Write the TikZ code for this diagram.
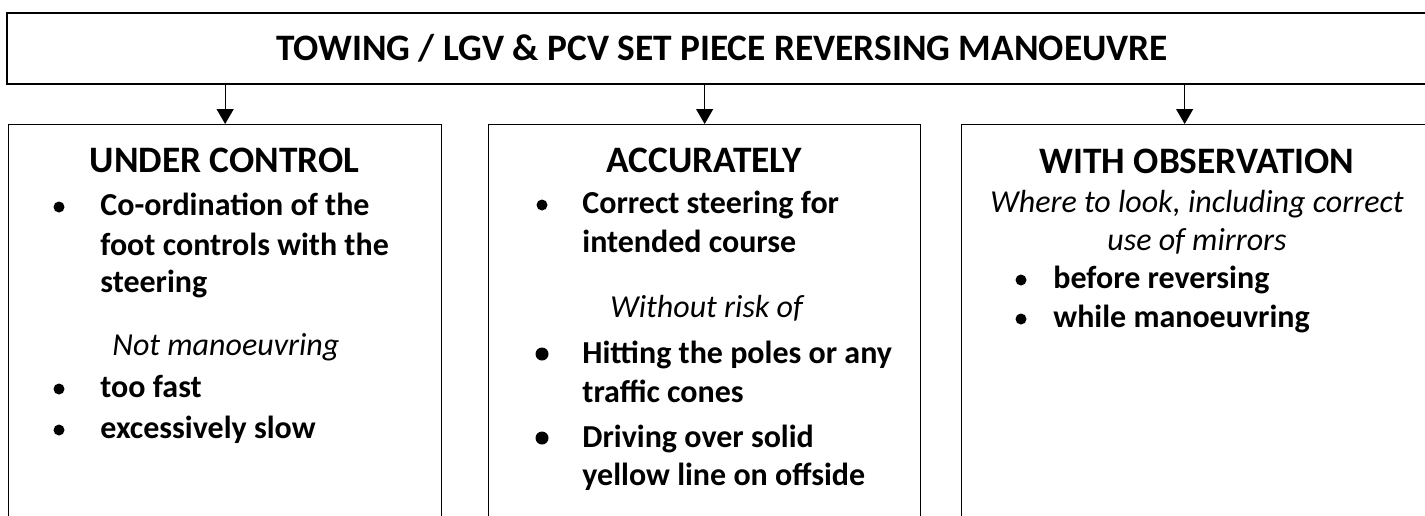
\documentclass[tikz,border=0pt]{standalone}
\usepackage{fontspec}
\setmainfont{Carlito}
\usepackage{tikz}
\usetikzlibrary{positioning,arrows.meta}

\tikzset{
  titlebox/.style={rectangle, draw, line width=1pt, minimum width=726.5pt, minimum height=35.5pt, inner sep=0pt},
  titletext/.style={anchor=base, inner sep=0pt, font=\fontsize{18.67}{23}\selectfont\bfseries},
  panel/.style={rectangle, draw, line width=0.65pt, anchor=north west, minimum height=230pt, inner sep=0pt},
  heading/.style={anchor=base, inner sep=0pt, font=\fontsize{18.67}{23}\selectfont\bfseries},
  item/.style={anchor=base west, inner sep=0pt, font=\fontsize{16}{20}\selectfont\bfseries},
  note/.style={anchor=base west, inner sep=0pt, font=\fontsize{16}{20}\selectfont\itshape},
  dot/.style={circle, fill, inner sep=0pt, minimum size=5.5pt},
  bigdot/.style={circle, fill, inner sep=0pt, minimum size=6.5pt},
  link/.style={-{Triangle[width=8.5pt,length=7.5pt]}, line width=0.65pt}
}

\begin{document}
\begin{tikzpicture}[x=0.5pt, y=-0.5pt]
\useasboundingbox[fill=white] (0,0) rectangle (1425,515);
\clip (0,0) rectangle (1425,515);

\node (title) [titlebox] at (733.5,48.5) {};
\node (titlelabel) [titletext] at (722,60) {TOWING / LGV \& PCV SET PIECE REVERSING MANOEUVRE};

\node (ctrl) [panel, minimum width=216.5pt] at (8,124) {};
\node (acc) [panel, minimum width=216pt] at (488,124) {};
\node (obs) [panel, minimum width=250pt] at (961,124) {};

\draw[link] (title.south -| ctrl.north) -- (ctrl.north);
\draw[link] (title.south -| acc.north) -- (acc.north);
\draw[link] ([xshift=-13.5pt]title.south -| obs.north) -- ([xshift=-13.5pt]obs.north);

% under control
\node (ctrlhead) [heading] at (224.5,172) {UNDER CONTROL};
\node (ctrldot1) [dot] at (59,207) {};
\node (ctrl1) [item] at (100,215) {Co-ordination of the};
\node (ctrl2) [item] at (100,255) {foot controls with the};
\node (ctrl3) [item] at (100,292) {steering};
\node (ctrlnote) [note] at (112,355) {Not manoeuvring};
\node (ctrldot2) [dot] at (59,389) {};
\node (ctrl4) [item] at (100,397) {too fast};
\node (ctrldot3) [dot] at (59,430) {};
\node (ctrl5) [item] at (100,438) {excessively slow};

% accurately
\node (acchead) [heading] at (704,172) {ACCURATELY};
\node (accdot1) [dot] at (542,205) {};
\node (acc1) [item] at (582,213) {Correct steering for};
\node (acc2) [item] at (582,252) {intended course};
\node (accnote) [note] at (610,317) {Without risk of};
\node (accdot2) [bigdot] at (542,354) {};
\node (acc3) [item] at (582,363) {Hitting the poles or any};
\node (acc4) [item] at (582,402) {traffic cones};
\node (accdot3) [bigdot] at (542,438) {};
\node (acc5) [item] at (582,447) {Driving over solid};
\node (acc6) [item] at (582,485) {yellow line on offside};

% with observation
\node (obshead) [heading] at (1197,173) {WITH OBSERVATION};
\node (obsnote1) [note, anchor=base] at (1197,212) {Where to look, including correct};
\node (obsnote2) [note, anchor=base] at (1197,250) {use of mirrors};
\node (obsdot1) [dot] at (1021,280) {};
\node (obs1) [item] at (1053,288) {before reversing};
\node (obsdot2) [dot] at (1021,319) {};
\node (obs2) [item] at (1053,327) {while manoeuvring};
\end{tikzpicture}
\end{document}
